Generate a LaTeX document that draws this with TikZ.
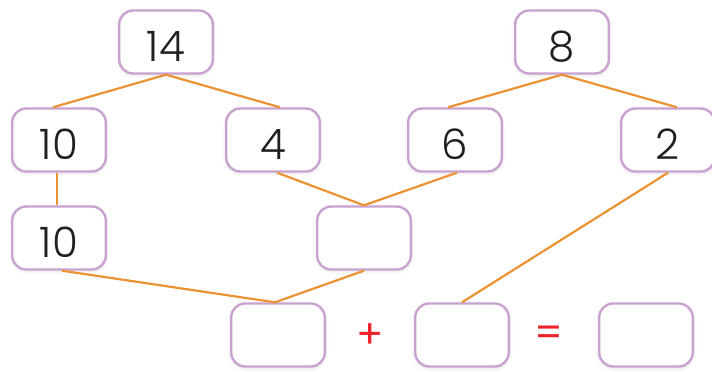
\documentclass[tikz,border=0pt]{standalone}
\usepackage{fontspec}
\setmainfont{Poppins Light}
\newfontfamily\opfont{Poppins}
\usetikzlibrary{shadows.blur}
\definecolor{boxedge}{HTML}{C9A3CF}
\definecolor{linkc}{HTML}{EB9233}
\definecolor{opc}{HTML}{EE2229}
\definecolor{numc}{HTML}{231F20}
\tikzset{
  numbox/.style={draw=boxedge, line width=2.4pt, rounded corners=14pt, fill=white,
    minimum width=93.6pt, minimum height=63pt, inner sep=0pt, text=numc,
    text height=39pt, text depth=0pt,
    font=\fontsize{42}{42}\selectfont,
    blur shadow={shadow xshift=0pt, shadow yshift=-1.5pt, shadow blur radius=4pt, shadow opacity=12}},
  link/.style={draw=linkc, line width=2.2pt},
  opsym/.style={text=opc, font=\opfont\fontsize{40}{40}\selectfont, inner sep=0pt}
}
\begin{document}
\begin{tikzpicture}[x=1pt,y=-1pt]
\useasboundingbox (0,0) rectangle (712,372);
\node[numbox] (n14) at (166,42) {14};
\node[numbox] (n8) at (562,42) {8};
\node[numbox] (a10) at (59,140) {10};
\node[numbox] (a4) at (273,140) {4};
\node[numbox] (a6) at (455,140) {6};
\node[numbox] (a2) at (668,140) {2};
\node[numbox] (b10) at (59,238) {10};
\node[numbox] (bE) at (364,238) {};
\node[numbox] (c1) at (278,335) {};
\node[numbox] (c2) at (462,335) {};
\node[numbox] (c3) at (646,335) {};
\node[opsym] (plus) at (370,336) {+};
\node[opsym] (eq) at (549,336) {=};
\draw[link] (n14.south) -- ([xshift=-6pt]a10.north);
\draw[link] (n14.south) -- ([xshift=7pt]a4.north);
\draw[link] (n8.south) -- ([xshift=-7pt]a6.north);
\draw[link] (n8.south) -- ([xshift=9pt]a2.north);
\draw[link] ([xshift=-2pt]a10.south) -- ([xshift=-2pt]b10.north);
\draw[link] ([xshift=4pt]a4.south) -- (bE.north);
\draw[link] ([xshift=2pt]a6.south) -- (bE.north);
\draw[link] ([xshift=3pt]b10.south) -- ([xshift=-3pt]c1.north);
\draw[link] (bE.south) -- ([xshift=-3pt]c1.north);
\draw[link] (a2.south) -- (c2.north);
\end{tikzpicture}
\end{document}
